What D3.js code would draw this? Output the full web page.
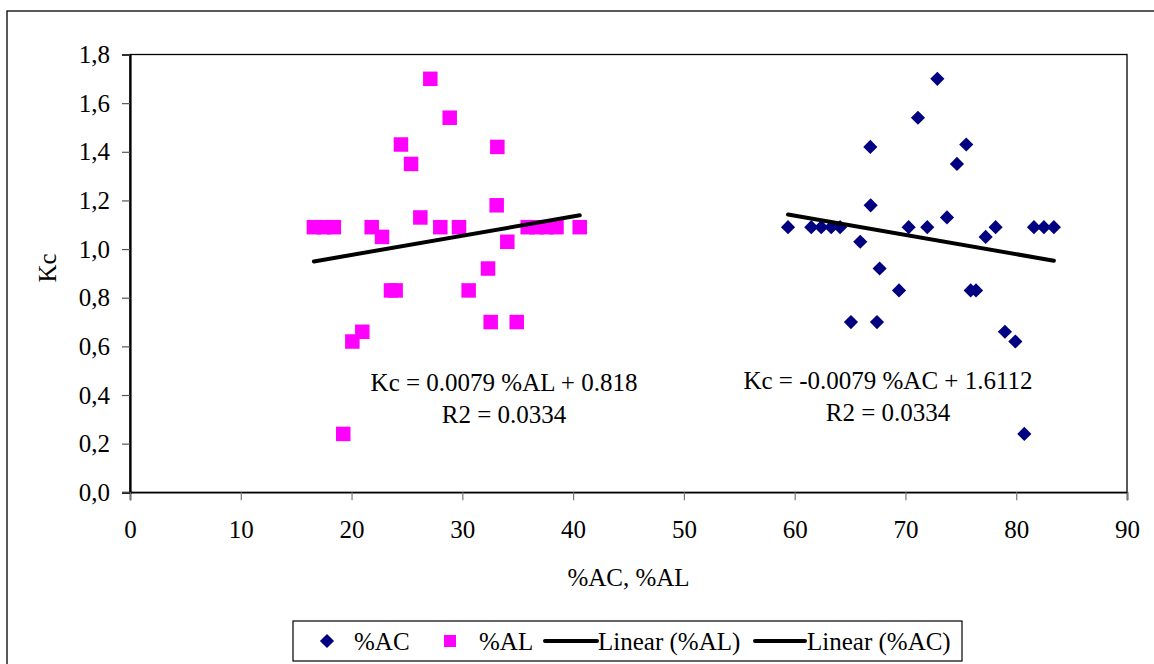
<!DOCTYPE html>
<html>
<head>
<meta charset="utf-8">
<script src="https://cdn.jsdelivr.net/npm/d3@7"></script>
<style>
  html, body { margin: 0; padding: 0; background: #fff; }
  svg { display: block; font-family: "Liberation Serif", "Times New Roman", serif; }
</style>
</head>
<body>
<svg id="chart" width="1154" height="664"></svg>
<script>
// ---- data ----
const acX  = [83.4, 82.5, 81.6, 80.73, 79.92, 78.98, 78.14, 77.24, 76.37, 75.89, 75.49, 74.65, 73.75, 72.88, 71.97, 71.13, 70.29, 69.42, 67.67, 67.43, 66.86, 66.83, 65.92, 65.08, 64.1, 63.3, 62.4, 61.5, 59.4];
const acKc = [1.09, 1.09, 1.09, 0.24, 0.62, 0.66, 1.09, 1.05, 0.83, 0.83, 1.43, 1.35, 1.13, 1.70, 1.09, 1.54, 1.09, 0.83, 0.92, 0.70, 1.18, 1.42, 1.03, 0.70, 1.09, 1.09, 1.09, 1.09, 1.09];
const alX  = [16.6, 17.5, 18.4, 19.25, 20.07, 20.97, 21.82, 22.75, 23.56, 23.98, 24.46, 25.37, 26.21, 27.11, 28.01, 28.86, 29.70, 30.57, 32.32, 32.56, 33.10, 33.16, 34.06, 34.91, 35.9, 36.7, 37.6, 38.5, 40.6];
const alKc = [1.09, 1.09, 1.09, 0.24, 0.62, 0.66, 1.09, 1.05, 0.83, 0.83, 1.43, 1.35, 1.13, 1.70, 1.09, 1.54, 1.09, 0.83, 0.92, 0.70, 1.18, 1.42, 1.03, 0.70, 1.09, 1.09, 1.09, 1.09, 1.09];
const trendNames = ["Linear (%AL)", "Linear (%AC)"];
const trendSlope = [0.0079, -0.0079];
const trendIntercept = [0.818, 1.6112];
const eqLabels = [["Kc = 0.0079 %AL + 0.818", "R2 = 0.0334"], ["Kc = -0.0079 %AC + 1.6112", "R2 = 0.0334"]];
const xTicks = [0, 10, 20, 30, 40, 50, 60, 70, 80, 90];
const yTicks = [0, 0.2, 0.4, 0.6, 0.8, 1.0, 1.2, 1.4, 1.6, 1.8];
const xTitle = "%AC, %AL";
const yTitle = "Kc";
const legendLabels = ["%AC", "%AL", "Linear (%AL)", "Linear (%AC)"];

// ---- layout ----
const svg = d3.select("#chart");
const FS = 25;
const plot = { left: 130, right: 1127, top: 54.5, bottom: 492.3 };
const x = d3.scaleLinear().domain([0, 90]).range([plot.left, plot.right]);
const y = d3.scaleLinear().domain([0, 1.8]).range([plot.bottom, plot.top]);

// outer chart border (cut off at right/bottom)
svg.append("rect").attr("x", 7).attr("y", 11).attr("width", 1170).attr("height", 680)
  .attr("fill", "none").attr("stroke", "#000").attr("stroke-width", 1.3);

// plot area border
svg.append("rect").attr("x", plot.left).attr("y", plot.top)
  .attr("width", plot.right - plot.left).attr("height", plot.bottom - plot.top)
  .attr("fill", "none").attr("stroke", "#000").attr("stroke-width", 1.3);

// axes
const yAxis = d3.axisLeft(y).tickValues(yTicks).tickSize(8).tickPadding(12)
  .tickFormat(d => d.toFixed(1).replace(".", ","));
const gy = svg.append("g").attr("transform", `translate(${plot.left},0)`).call(yAxis);
gy.select(".domain").attr("stroke", "#000").attr("stroke-width", 2.2);
gy.selectAll(".tick line").attr("stroke", "#555").attr("stroke-width", 1.2);
gy.selectAll("text").attr("font-size", FS).attr("font-family", "Liberation Serif").attr("fill", "#000");

const xAxis = d3.axisBottom(x).tickValues(xTicks).tickSize(8).tickPadding(20);
const gx = svg.append("g").attr("transform", `translate(0,${plot.bottom})`).call(xAxis);
gx.select(".domain").attr("stroke", "#000").attr("stroke-width", 1.6);
gx.selectAll(".tick line").attr("stroke", "#777").attr("stroke-width", 1.2);
gx.selectAll("text").attr("font-size", FS).attr("font-family", "Liberation Serif").attr("fill", "#000");

// axis titles
svg.append("text").attr("x", x(45)).attr("y", 586).attr("text-anchor", "middle")
  .attr("font-size", FS).text(xTitle);
svg.append("text").attr("transform", "translate(56,268) rotate(-90)").attr("text-anchor", "middle")
  .attr("font-size", FS).text(yTitle);

// symbols
const diamond = d3.symbol().type(d3.symbolDiamond2).size(128);
const SQ = 14.5;

// %AL squares
svg.append("g").selectAll("rect").data(alX.map((v, i) => [v, alKc[i]])).join("rect")
  .attr("x", d => x(d[0]) - SQ / 2).attr("y", d => y(d[1]) - SQ / 2)
  .attr("width", SQ).attr("height", SQ).attr("fill", "#FF00FF");

// %AC diamonds
svg.append("g").selectAll("path").data(acX.map((v, i) => [v, acKc[i]])).join("path")
  .attr("d", diamond).attr("transform", d => `translate(${x(d[0])},${y(d[1])})`)
  .attr("fill", "#000080");

// trend lines
const seriesX = [alX, acX];
trendSlope.forEach((m, i) => {
  const [x0, x1] = d3.extent(seriesX[i]);
  svg.append("line")
    .attr("x1", x(x0)).attr("y1", y(m * x0 + trendIntercept[i]))
    .attr("x2", x(x1)).attr("y2", y(m * x1 + trendIntercept[i]))
    .attr("stroke", "#000").attr("stroke-width", 4).attr("stroke-linecap", "round");
});

// equation labels
const eqPos = [[504, 391], [888, 389]];
eqLabels.forEach((lines, i) => {
  lines.forEach((t, j) => {
    svg.append("text").attr("x", eqPos[i][0]).attr("y", eqPos[i][1] + j * 32)
      .attr("text-anchor", "middle").attr("font-size", FS).text(t);
  });
});

// legend
const lg = svg.append("g");
lg.append("rect").attr("x", 293).attr("y", 621).attr("width", 669).attr("height", 40)
  .attr("fill", "#fff").attr("stroke", "#000").attr("stroke-width", 1.2);
const ly = 641, lb = 650;
lg.append("path").attr("d", diamond).attr("transform", `translate(327,${ly})`).attr("fill", "#000080");
lg.append("text").attr("x", 354).attr("y", lb).attr("font-size", FS).text(legendLabels[0]);
lg.append("rect").attr("x", 450 - 6).attr("y", ly - 6).attr("width", 12).attr("height", 12).attr("fill", "#FF00FF");
lg.append("text").attr("x", 479).attr("y", lb).attr("font-size", FS).text(legendLabels[1]);
lg.append("line").attr("x1", 545).attr("x2", 597).attr("y1", ly).attr("y2", ly).attr("stroke", "#000").attr("stroke-width", 4).attr("stroke-linecap", "round");
lg.append("text").attr("x", 598).attr("y", lb).attr("font-size", FS).text(legendLabels[2]);
lg.append("line").attr("x1", 755).attr("x2", 805).attr("y1", ly).attr("y2", ly).attr("stroke", "#000").attr("stroke-width", 4).attr("stroke-linecap", "round");
lg.append("text").attr("x", 807).attr("y", lb).attr("font-size", FS).text(legendLabels[3]);
</script>
</body>
</html>
